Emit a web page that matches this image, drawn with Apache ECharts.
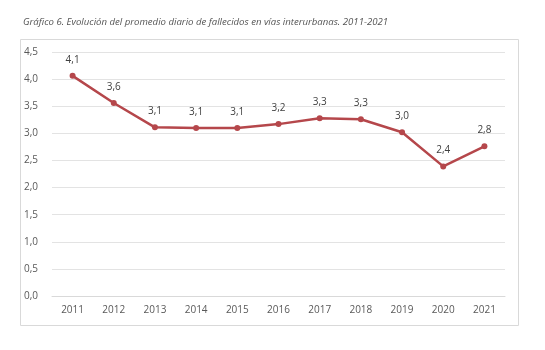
<!DOCTYPE html>
<html>
<head>
<meta charset="utf-8">
<script src="https://cdn.jsdelivr.net/npm/echarts@6/dist/echarts.min.js"></script>
<style>
  html, body { margin: 0; padding: 0; background: #fff; }
  #chart { width: 545px; height: 350px; }
</style>
</head>
<body>
<div id="chart"></div>
<script>
const years = ['2011', '2012', '2013', '2014', '2015', '2016', '2017', '2018', '2019', '2020', '2021']
const promedio = [4.06, 3.56, 3.11, 3.10, 3.10, 3.17, 3.28, 3.26, 3.02, 2.39, 2.76]

const chart = echarts.init(document.getElementById('chart'))
const fmt = v => v.toFixed(1).replace('.', ',')

const option = {
  animation: false,
  textStyle: { fontFamily: 'Open Sans, sans-serif' },
  title: {
    text: 'Gráfico 6. Evolución del promedio diario de fallecidos en vías interurbanas. 2011-2021',
    left: 18,
    top: 12,
    textStyle: {
      fontSize: 9.6,
      fontStyle: 'italic',
      fontWeight: 'normal',
      color: '#555'
    }
  },
  graphic: [
    {
      type: 'rect',
      shape: { x: 20.5, y: 39.5, width: 498, height: 286 },
      style: { fill: 'none', stroke: '#d9d9d9', lineWidth: 1 },
      silent: true
    }
  ],
  grid: {
    left: 52,
    right: 40,
    top: 52,
    bottom: 54
  },
  xAxis: {
    type: 'category',
    data: years,
    boundaryGap: true,
    axisLine: { lineStyle: { color: '#d9d9d9' } },
    axisTick: { show: false },
    axisLabel: { color: '#595959', fontSize: 10, margin: 9 }
  },
  yAxis: {
    type: 'value',
    min: 0,
    max: 4.5,
    interval: 0.5,
    axisLine: { show: false },
    axisTick: { show: false },
    splitLine: { lineStyle: { color: '#e3e3e3' } },
    axisLabel: {
      color: '#595959',
      fontSize: 10,
      margin: 14,
      formatter: v => fmt(v)
    }
  },
  series: [
    {
      type: 'line',
      data: promedio,
      symbol: 'circle',
      symbolSize: 6,
      lineStyle: { color: '#b5474b', width: 2.5 },
      itemStyle: { color: '#b5474b' },
      label: {
        show: true,
        position: 'top',
        distance: 8,
        color: '#404040',
        fontSize: 10,
        formatter: p => fmt(p.value)
      }
    }
  ]
}
chart.setOption(option)
</script>
</body>
</html>
